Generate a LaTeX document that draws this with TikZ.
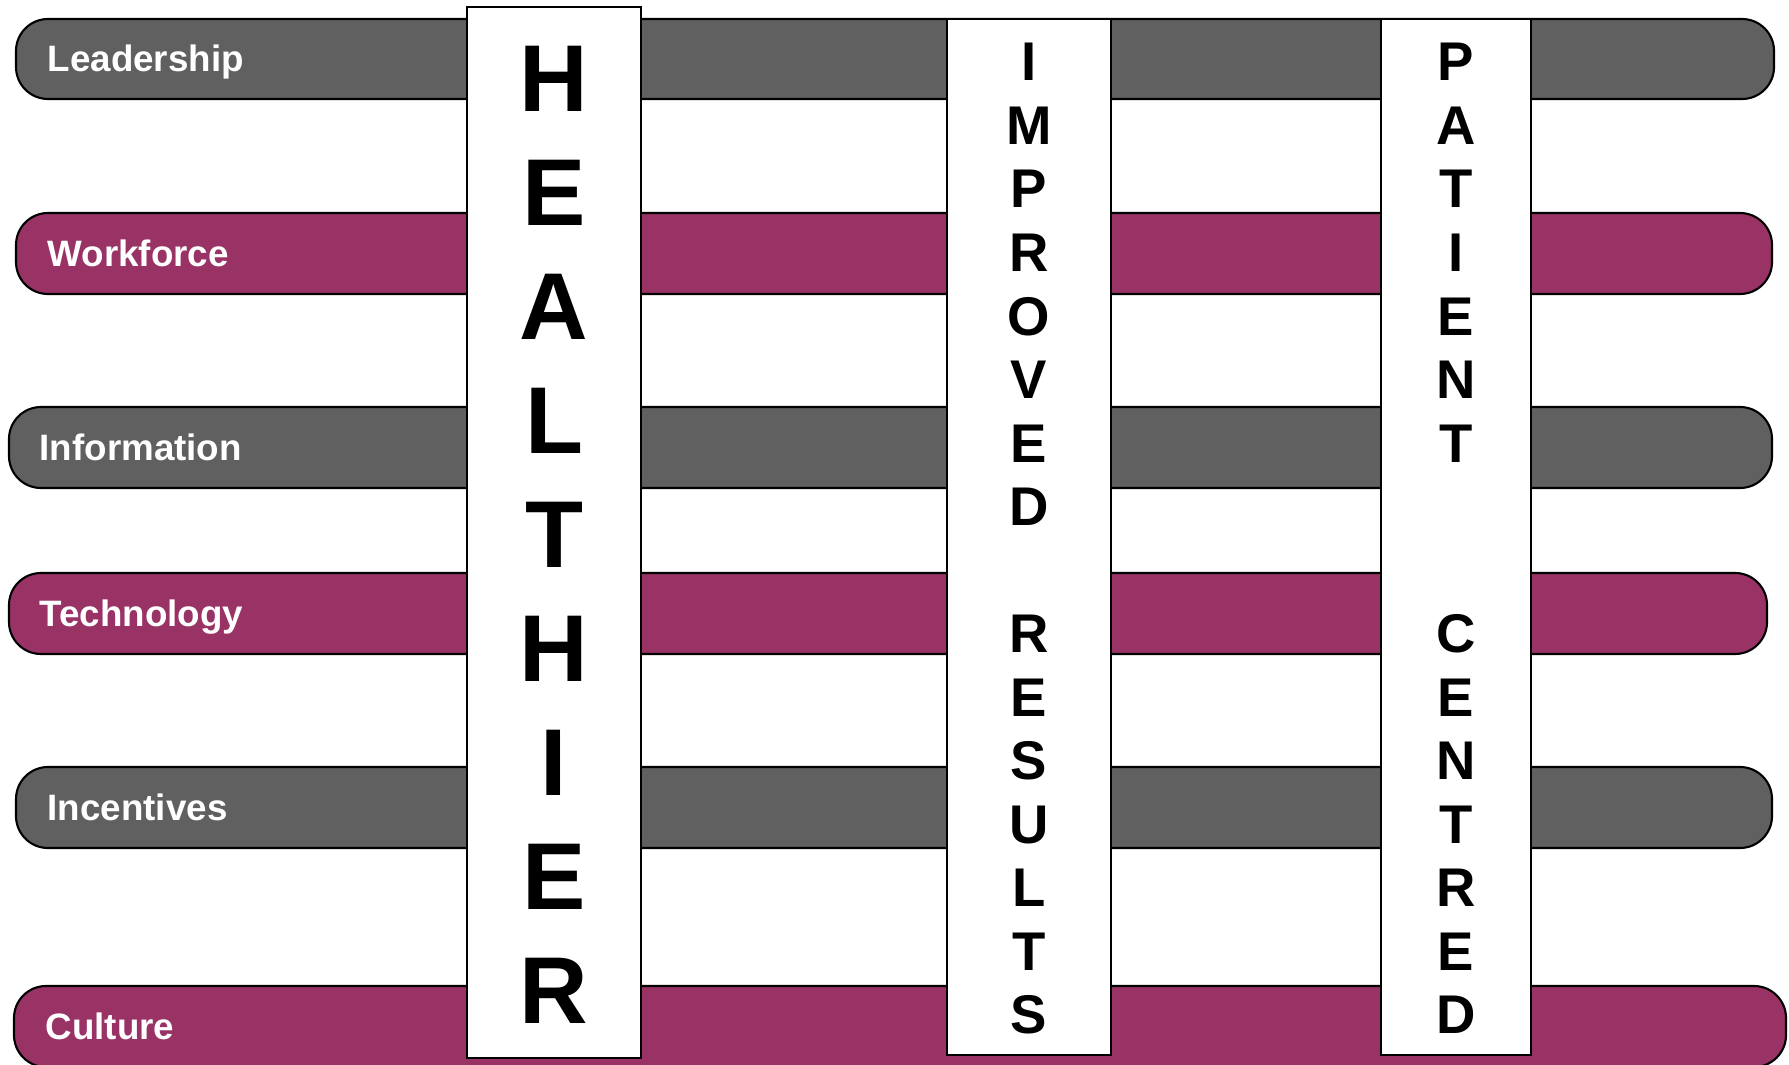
\documentclass[tikz,border=0pt]{standalone}
\usepackage{fontspec}
\setmainfont{Liberation Sans}
\definecolor{bargrey}{HTML}{606060}
\definecolor{barpurple}{HTML}{993366}
\begin{document}
\begin{tikzpicture}[x=0.01cm,y=-0.01cm,
  bar/.style={draw=black,line width=0.6pt,rounded corners=0.32cm},
  col/.style={draw=black,fill=white,line width=0.6pt},
  barlabel/.style={anchor=base west,inner sep=0pt,text=white,font=\fontsize{10.45}{12}\selectfont\bfseries},
  big/.style={anchor=base,inner sep=0pt,font=\fontsize{27}{30}\selectfont\bfseries},
  small/.style={anchor=base,inner sep=0pt,font=\fontsize{15.5}{18}\selectfont\bfseries}]
\useasboundingbox (0,0) rectangle (1789,1064);
\clip (0,0) rectangle (1789,1064);
% bars
\draw[bar,fill=bargrey]   (16,19)  rectangle (1774,99);
\draw[bar,fill=barpurple] (16,213) rectangle (1772,294);
\draw[bar,fill=bargrey]   (9,407)  rectangle (1772,488);
\draw[bar,fill=barpurple] (9,573)  rectangle (1767,654);
\draw[bar,fill=bargrey]   (16,767) rectangle (1772,848);
\draw[bar,fill=barpurple] (14,986) rectangle (1786,1067);
\node[barlabel] (lead) at (47,72)    {Leadership};
\node[barlabel] (work) at (47,266.5) {Workforce};
\node[barlabel] (info) at (39,460.5) {Information};
\node[barlabel] (tech) at (39,626.5) {Technology};
\node[barlabel] (ince) at (47,820.5) {Incentives};
\node[barlabel] (cult) at (45,1039)  {Culture};
% columns
\draw[col] (467,7)   rectangle (641,1058);
\draw[col] (947,19)  rectangle (1111,1055);
\draw[col] (1381,19) rectangle (1531,1055);
% letters
\foreach \l [count=\i from 0] in {H,E,A,L,T,H,I,E,R}
  \node[big] (hl\i) at (554,111.5+114*\i) {\l};
\foreach \l/\k in {I/0,M/1,P/2,R/3,O/4,V/5,E/6,D/7,R/9,E/10,S/11,U/12,L/13,T/14,S/15}
  \node[small] (ir\k) at (1029,81+63.5*\k) {\l};
\foreach \l/\k in {P/0,A/1,T/2,I/3,E/4,N/5,T/6,C/9,E/10,N/11,T/12,R/13,E/14,D/15}
  \node[small] (pc\k) at (1456,81+63.5*\k) {\l};
\end{tikzpicture}
\end{document}
